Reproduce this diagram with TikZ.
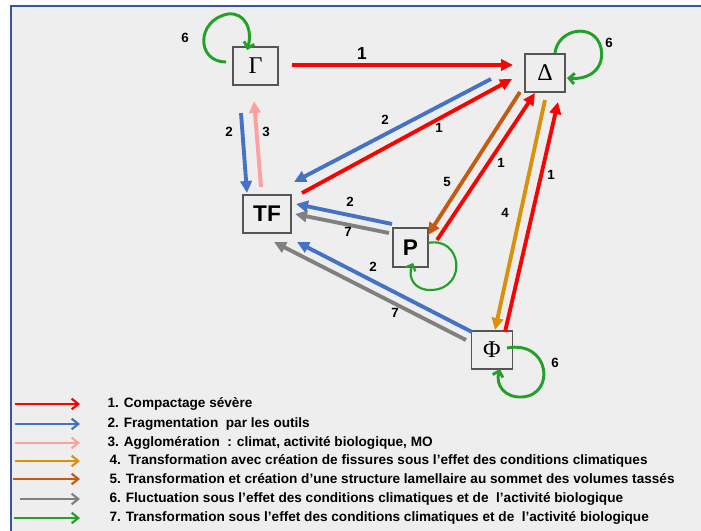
\documentclass[tikz,border=0pt]{standalone}
\usepackage{fontspec}
\setmainfont{Liberation Sans}
\newfontfamily\grkfont{Liberation Serif}
\usetikzlibrary{arrows.meta,calc}

\definecolor{flred}{RGB}{255,0,0}
\definecolor{flblue}{RGB}{68,114,196}
\definecolor{flpink}{RGB}{255,160,160}
\definecolor{florange}{RGB}{218,145,10}
\definecolor{flbrown}{RGB}{197,90,17}
\definecolor{flgray}{RGB}{128,128,128}
\definecolor{flgreen}{RGB}{34,160,40}
\definecolor{bggray}{RGB}{238,238,238}
\definecolor{frameblue}{RGB}{55,85,160}
\definecolor{boxgray}{RGB}{85,85,85}

\tikzset{every picture/.style={line width=0.75pt}}

\begin{document}
\begin{tikzpicture}[x=0.75pt,y=0.75pt,yscale=-1,xscale=1,
  box/.style={draw=boxgray,line width=0.9pt,fill=bggray,inner sep=0pt},
  flux/.style={line width=2.9pt,-{Triangle[length=9pt,width=8.5pt]}},
  loopsix/.style={flgreen,line width=2.2pt,-{Straight Barb[length=4pt,width=8pt]}},
  legarrow/.style={line width=1.6pt,-{Straight Barb[length=5pt,width=8pt]}},
  lbl/.style={font=\bfseries\fontsize{10}{12}\selectfont,inner sep=0pt},
  legtxt/.style={font=\bfseries\fontsize{10.2}{12}\selectfont,anchor=west,inner sep=0pt}]
\useasboundingbox (0,0) rectangle (701,531);

%Background and frame
\fill[bggray] (11,6) rectangle (701,531);
\draw[frameblue,line width=1.2pt] (11,531) -- (11,6) -- (701,6);

%Shape: Boxes
\node[box,minimum width=33.75pt,minimum height=28.5pt,font=\grkfont\fontsize{18}{18}\selectfont] (gam) at (255.5,66) {Γ};
\node[box,minimum width=30pt,minimum height=28.5pt,font=\grkfont\fontsize{18}{18}\selectfont] (del) at (545,73) {Δ};
\node[box,minimum width=36pt,minimum height=28.5pt,font=\bfseries\fontsize{17}{17}\selectfont] (tf) at (267,214) {TF};
\node[box,minimum width=26.25pt,minimum height=29.25pt,font=\bfseries\fontsize{17}{17}\selectfont] (p) at (410.5,247.5) {P};
\node[box,minimum width=30.75pt,minimum height=28.5pt,font=\grkfont\fontsize{18}{18}\selectfont] (phi) at (492,350) {Φ};

%Straight Lines: flows between the boxes
\draw[flux,flred] ($(gam)+(36.5,-1)$) -- ($(del)+(-32,-8)$);
\draw[flux,flblue] ($(del)+(-54,6)$) -- ($(tf)+(27,-32)$);
\draw[flux,flred] ($(tf)+(35,-21)$) -- ($(del)+(-33,6)$);
\draw[flux,flblue] ($(gam)+(-14.5,47)$) -- ($(tf)+(-20,-21)$);
\draw[flux,flpink] ($(tf)+(-6,-27)$) -- ($(gam)+(-1.5,35)$);
\draw[flux,flbrown] ($(del)+(-25,19)$) -- ($(p)+(17.5,-12.5)$);
\draw[flux,flred] ($(p)+(26.5,-7.5)$) -- ($(del)+(-10,20)$);
\draw[flux,florange] ($(del)+(0,27)$) -- ($(phi)+(3,-20)$);
\draw[flux,flred] ($(phi)+(13,-18)$) -- ($(del)+(13,29)$);
\draw[flux,flblue] ($(p)+(-18.5,-23.5)$) -- ($(tf)+(29,-10)$);
\draw[flux,flgray] ($(p)+(-21.5,-14.5)$) -- ($(tf)+(28,0)$);
\draw[flux,flblue] ($(phi)+(-20,-18)$) -- ($(tf)+(30,28)$);
\draw[flux,flgray] ($(phi)+(-26,-10)$) -- ($(tf)+(7,28)$);

%Curves: loops
\draw[loopsix] ($(gam)+(-29.5,-4)$) .. controls ($(gam)+(-59.5,-4)$) and ($(gam)+(-59.5,-46)$) .. ($(gam)+(-27.5,-52)$) .. controls ($(gam)+(-10.5,-54)$) and ($(gam)+(-2.5,-36)$) .. ($(gam)+(-8.5,-16)$);
\draw[loopsix] ($(del)+(10,-20)$) .. controls ($(del)+(13,-45)$) and ($(del)+(50,-51)$) .. ($(del)+(56,-25)$) .. controls ($(del)+(60,-5)$) and ($(del)+(45,7)$) .. ($(del)+(22,5)$);
\draw[loopsix,line width=1.6pt] ($(p)+(17.5,-4.5)$) .. controls ($(p)+(51.5,-11.5)$) and ($(p)+(57.5,40.5)$) .. ($(p)+(21.5,42.5)$) .. controls ($(p)+(4.5,43.5)$) and ($(p)+(-3.5,30.5)$) .. ($(p)+(2.5,15.5)$);
\draw[loopsix] ($(phi)+(15,-2)$) .. controls ($(phi)+(58,-10)$) and ($(phi)+(64,45)$) .. ($(phi)+(30,47)$) .. controls ($(phi)+(13,48)$) and ($(phi)+(3,35)$) .. ($(phi)+(8,19)$);

% Text Node: numbers on the flows
\node[lbl,font=\bfseries\fontsize{13}{13}\selectfont] (n1) at (362,54) {1};
\node[lbl] (n2) at (385,120) {2};
\node[lbl] (n3) at (439,128) {1};
\node[lbl] (n4) at (229,132) {2};
\node[lbl] (n5) at (266,132) {3};
\node[lbl] (n6) at (447,182) {5};
\node[lbl] (n7) at (501,163) {1};
\node[lbl] (n8) at (505,213) {4};
\node[lbl] (n9) at (551,175) {1};
\node[lbl] (n10) at (350,202) {2};
\node[lbl] (n11) at (348,232) {7};
\node[lbl] (n12) at (373,267) {2};
\node[lbl] (n13) at (395,313) {7};
\node[lbl] (n14) at (185,38) {6};
\node[lbl] (n15) at (609,43) {6};
\node[lbl] (n16) at (555,363) {6};

% Legend
\foreach \col/\yy/\xs/\xt/\txt [count=\i] in {
  flred/404/15/107/{1. Compactage sévère},
  flblue/424/15/107/{2. Fragmentation\ \ par les outils},
  flpink/443/15/107/{3. Agglomération\ \ : climat, activité biologique, MO},
  florange/461/15/109/{4.\ \ Transformation avec création de fissures sous l’effet des conditions climatiques},
  flbrown/479/13/109/{5. Transformation et création d’une structure lamellaire au sommet des volumes tassés},
  flgray/499/20/109/{6. Fluctuation sous l’effet des conditions climatiques et de\ \ l’activité biologique},
  flgreen/518/14/109/{7. Transformation sous l’effet des conditions climatiques et de\ \ l’activité biologique}}{
  \coordinate (ls\i) at (\xs,\yy);
  \coordinate (le\i) at (80,\yy);
  \draw[legarrow,\col] (ls\i) -- (le\i);
  \node[legtxt] (lt\i) at (\xt,\yy) {\txt};
}
\end{tikzpicture}
\end{document}
